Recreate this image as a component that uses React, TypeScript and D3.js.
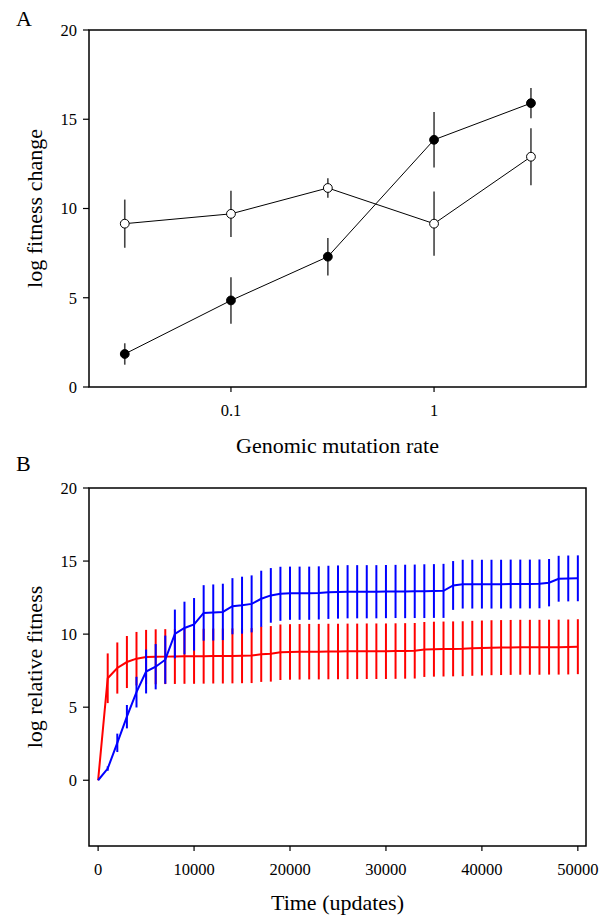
import React from "react"
import * as d3 from "d3"

const W = 608
const H = 917
const FONT = "'Liberation Serif', 'Times New Roman', serif"

// panel A
const rates = [0.03, 0.1, 0.3, 1, 3]
const filledMean = [1.85, 4.85, 7.3, 13.85, 15.9]
const filledErr = [0.6, 1.3, 1.05, 1.55, 0.85]
const openMean = [9.15, 9.7, 11.15, 9.15, 12.9]
const openErr = [1.35, 1.3, 0.55, 1.8, 1.6]
const rateTicks = [0.1, 1]
const fitTicks = [0, 5, 10, 15, 20]

// panel B
const updates = d3.range(0, 50001, 1000)
const redMean = [
  0, 6.98, 7.68, 8.09, 8.32, 8.43, 8.45, 8.46, 8.47, 8.48, 8.48,
  8.49, 8.5, 8.5, 8.51, 8.52, 8.53, 8.63, 8.65, 8.76, 8.78,
  8.79, 8.8, 8.8, 8.81, 8.81, 8.82, 8.82, 8.83, 8.83, 8.83,
  8.84, 8.85, 8.86, 8.95, 8.97, 8.98, 8.99, 9.0, 9.03, 9.05,
  9.07, 9.08, 9.09, 9.1, 9.1, 9.1, 9.11, 9.11, 9.12, 9.14,
]
const redErr = [
  0, 1.7, 1.75, 1.78, 1.83, 1.86, 1.88, 1.88, 1.88, 1.88, 1.88,
  1.88, 1.88, 1.88, 1.88, 1.88, 1.88, 1.9, 1.9, 1.9, 1.9,
  1.9, 1.9, 1.9, 1.9, 1.9, 1.9, 1.9, 1.9, 1.9, 1.9,
  1.9, 1.9, 1.9, 1.88, 1.88, 1.88, 1.88, 1.88, 1.88, 1.88,
  1.88, 1.88, 1.88, 1.88, 1.88, 1.88, 1.88, 1.88, 1.88, 1.88,
]
const blueMean = [
  0, 0.8, 2.56, 4.35, 6.03, 7.44, 7.77, 8.25, 10.01, 10.42, 10.67,
  11.45, 11.48, 11.52, 11.91, 11.98, 12.07, 12.42, 12.65, 12.76, 12.8,
  12.8, 12.8, 12.82, 12.86, 12.88, 12.9, 12.9, 12.9, 12.9, 12.91,
  12.92, 12.92, 12.93, 12.94, 12.95, 12.96, 13.33, 13.42, 13.42, 13.42,
  13.42, 13.42, 13.43, 13.43, 13.43, 13.44, 13.52, 13.79, 13.81, 13.82,
]
const blueErr = [
  0, 0.15, 0.63, 0.8, 1.05, 1.5, 1.55, 1.65, 1.67, 1.8, 1.8,
  1.9, 1.92, 1.93, 1.92, 1.95, 1.95, 1.92, 1.87, 1.85, 1.82,
  1.82, 1.82, 1.82, 1.82, 1.82, 1.82, 1.82, 1.82, 1.82, 1.82,
  1.82, 1.83, 1.83, 1.84, 1.84, 1.85, 1.67, 1.67, 1.67, 1.67,
  1.67, 1.67, 1.67, 1.67, 1.67, 1.67, 1.62, 1.57, 1.57, 1.57,
]
const timeTicks = [0, 10000, 20000, 30000, 40000, 50000]

const frameL = 89
const frameR = 586
const tickFont = 16.5
const titleFont = 22

const PanelA = () => {
  const x = d3.scaleLog().domain([0.02, 5.6]).range([frameL, frameR])
  const y = d3.scaleLinear().domain([0, 20]).range([387, 30])
  const line = d3.line<number>().x((_, i) => x(rates[i])).y(d => y(d))
  const series = [
    { mean: openMean, err: openErr, fill: "white" },
    { mean: filledMean, err: filledErr, fill: "black" },
  ]
  return (
    <g>
      <text x={16} y={26} fontSize={22}>A</text>
      {series.map((s, k) => (
        <g key={k}>
          {s.mean.map((m, i) => (
            <line key={i} x1={x(rates[i])} x2={x(rates[i])} y1={y(m - s.err[i])} y2={y(m + s.err[i])}
              stroke="#444" strokeWidth={1.6} />
          ))}
          <path d={line(s.mean) ?? ""} fill="none" stroke="black" strokeWidth={1} />
          {s.mean.map((m, i) => (
            <circle key={i} cx={x(rates[i])} cy={y(m)} r={4.4} fill={s.fill} stroke="black" strokeWidth={1} />
          ))}
        </g>
      ))}
      <rect x={frameL} y={y(20)} width={frameR - frameL} height={y(0) - y(20)} fill="none" stroke="black" strokeWidth={1.5} />
      {fitTicks.map(t => (
        <g key={t}>
          <line x1={frameL - 6} x2={frameL} y1={y(t)} y2={y(t)} stroke="black" strokeWidth={1.2} />
          <text x={frameL - 12} y={y(t)} dy="0.35em" textAnchor="end" fontSize={tickFont}>{t}</text>
        </g>
      ))}
      {rateTicks.map(t => (
        <g key={t}>
          <line x1={x(t)} x2={x(t)} y1={387} y2={392} stroke="black" strokeWidth={1.2} />
          <text x={x(t)} y={416} textAnchor="middle" fontSize={tickFont}>{t}</text>
        </g>
      ))}
      <text x={(frameL + frameR) / 2} y={453} textAnchor="middle" fontSize={titleFont}>Genomic mutation rate</text>
      <text transform={`translate(42, ${(30 + 387) / 2}) rotate(-90)`} textAnchor="middle" fontSize={titleFont}>log fitness change</text>
    </g>
  )
}

const PanelB = () => {
  const x = d3.scaleLinear().domain([-950, 50850]).range([frameL, frameR])
  const y = d3.scaleLinear().domain([-4.5, 20]).range([846, 488])
  const line = d3.line<number>().x((_, i) => x(updates[i])).y(d => y(d))
  const series = [
    { mean: redMean, err: redErr, color: "#ff0000" },
    { mean: blueMean, err: blueErr, color: "#0000ff" },
  ]
  return (
    <g>
      <text x={16} y={471} fontSize={22}>B</text>
      {series.map((s, k) => (
        <g key={k}>
          {s.mean.map((m, i) =>
            i === 0 ? null : (
              <line key={i} x1={x(updates[i])} x2={x(updates[i])} y1={y(m - s.err[i])} y2={y(m + s.err[i])}
                stroke={s.color} strokeWidth={2} />
            )
          )}
          <path d={line(s.mean) ?? ""} fill="none" stroke={s.color} strokeWidth={2} />
        </g>
      ))}
      <rect x={frameL} y={y(20)} width={frameR - frameL} height={y(-4.5) - y(20)} fill="none" stroke="black" strokeWidth={1.5} />
      {fitTicks.map(t => (
        <g key={t}>
          <line x1={frameL - 6} x2={frameL} y1={y(t)} y2={y(t)} stroke="black" strokeWidth={1.2} />
          <text x={frameL - 12} y={y(t)} dy="0.35em" textAnchor="end" fontSize={tickFont}>{t}</text>
        </g>
      ))}
      {timeTicks.map(t => (
        <g key={t}>
          <line x1={x(t)} x2={x(t)} y1={846} y2={851} stroke="black" strokeWidth={1.2} />
          <text x={x(t)} y={875} textAnchor="middle" fontSize={tickFont}>{t}</text>
        </g>
      ))}
      <text x={(frameL + frameR) / 2} y={910} textAnchor="middle" fontSize={titleFont}>Time (updates)</text>
      <text transform={`translate(42, ${(488 + 846) / 2}) rotate(-90)`} textAnchor="middle" fontSize={titleFont}>log relative fitness</text>
    </g>
  )
}

export default function App() {
  return (
    <svg width={W} height={H} style={{ position: "absolute", left: 0, top: 0, background: "white" }}
      fontFamily={FONT} fill="black">
      <rect width={W} height={H} fill="white" />
      <PanelA />
      <PanelB />
    </svg>
  )
}
